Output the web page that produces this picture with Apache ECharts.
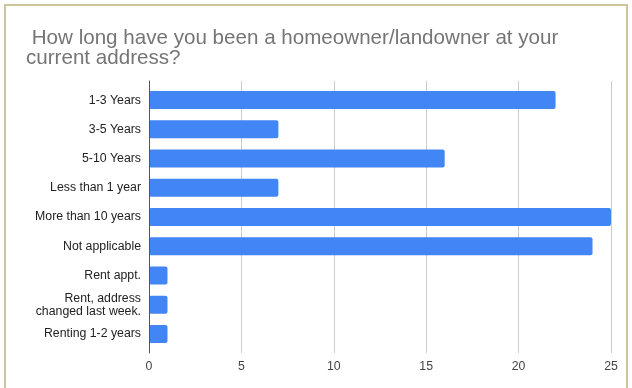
<!DOCTYPE html>
<html>
<head>
<meta charset="utf-8">
<script src="https://cdn.jsdelivr.net/npm/echarts@6/dist/echarts.min.js"></script>
<style>
  html, body { margin: 0; padding: 0; background: #fff; }
  #chart { width: 632px; height: 388px; }
</style>
</head>
<body>
<div id="chart"></div>
<script>
// Survey answers, top to bottom
const categories = [
  '1-3 Years',
  '3-5 Years',
  '5-10 Years',
  'Less than 1 year',
  'More than 10 years',
  'Not applicable',
  'Rent appt.',
  'Rent, address\nchanged last week.',
  'Renting 1-2 years'
];
// Number of responses per answer
const counts = [22, 7, 16, 7, 25, 24, 1, 1, 1];
// Value axis ticks
const tickMin = 0;
const tickMax = 25;
const tickStep = 5;

const FONT = 'Liberation Sans, Arial, sans-serif';
const chart = echarts.init(document.getElementById('chart'), null, { renderer: 'canvas' });

chart.setOption({
  animation: false,
  backgroundColor: '#ffffff',
  title: {
    text: ' How long have you been a homeowner/landowner at your\ncurrent address?',
    left: 26,
    top: 28,
    padding: 0,
    textStyle: {
      fontFamily: FONT,
      fontSize: 20.6,
      fontWeight: 'normal',
      color: '#757575',
      lineHeight: 20
    }
  },
  graphic: [{
    type: 'rect',
    shape: { x: 5, y: 5, width: 622, height: 400 },
    style: { fill: 'none', stroke: '#cdc59c', lineWidth: 2 },
    silent: true
  }],
  grid: [
    // frame for gridlines, tick labels and the baseline
    { left: 149, right: 21, top: 81, bottom: 35 },
    // bars
    { left: 149, right: 21, top: 85.5, bottom: 39.5 }
  ],
  xAxis: [
    {
      gridIndex: 0,
      type: 'value',
      min: tickMin,
      max: tickMax,
      interval: tickStep,
      axisLine: { show: false },
      axisTick: { show: false },
      axisLabel: { color: '#444', fontFamily: FONT, fontSize: 12.3, margin: 8 },
      splitLine: { show: true, lineStyle: { color: '#cccccc', width: 1 } }
    },
    {
      gridIndex: 1,
      type: 'value',
      min: tickMin,
      max: tickMax,
      interval: tickStep,
      show: false
    }
  ],
  yAxis: [
    {
      gridIndex: 0,
      type: 'value',
      min: 0,
      max: 1,
      axisLine: { show: true, lineStyle: { color: '#555', width: 1 } },
      axisTick: { show: false },
      axisLabel: { show: false },
      splitLine: { show: false },
      z: 5
    },
    {
      gridIndex: 1,
      type: 'category',
      data: categories,
      inverse: true,
      axisLine: { show: false },
      axisTick: { show: false },
      axisLabel: {
        color: '#222',
        fontFamily: FONT,
        fontSize: 12.3,
        lineHeight: 13,
        margin: 8,
        align: 'right'
      }
    }
  ],
  series: [{
    type: 'bar',
    xAxisIndex: 1,
    yAxisIndex: 1,
    data: counts,
    barWidth: 18,
    itemStyle: { color: '#4285f4', borderRadius: 2 },
    z: 3
  }]
});
</script>
</body>
</html>
